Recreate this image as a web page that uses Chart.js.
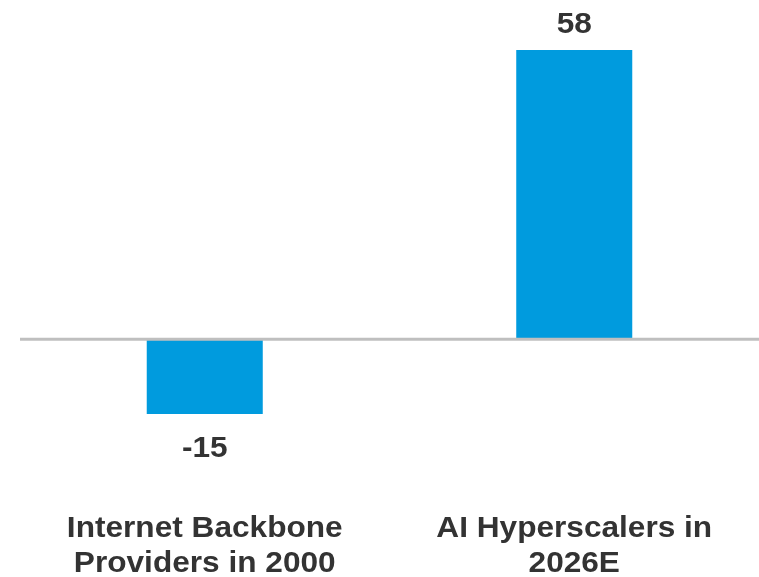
<!DOCTYPE html>
<html>
<head>
<meta charset="utf-8">
<script src="https://cdn.jsdelivr.net/npm/chart.js@4/dist/chart.umd.min.js"></script>
<style>
  html, body { margin: 0; padding: 0; background: #ffffff; }
  #wrap { width: 759px; height: 577px; }
</style>
</head>
<body>
<div id="wrap"><canvas id="chart" width="759" height="577"></canvas></div>
<script>
// Categories (multi-line labels) and values
const categories = [
  ['Internet Backbone', 'Providers in 2000'],
  ['AI Hyperscalers in', '2026E']
];
const values = [-15, 58];

const BAR_COLOR = '#009bde';
const TEXT_COLOR = '#333333';
const FONT = 'bold 29px "Liberation Sans", Arial, Helvetica, sans-serif';
const TEXT_STRETCH = 1.09;   // slightly widened lettering
const LINE_GAP = 35;

// Draw text centred on x with a horizontal stretch
function stretchedText(ctx, text, x, y) {
  ctx.save();
  ctx.translate(x, y);
  ctx.scale(TEXT_STRETCH, 1);
  ctx.fillText(text, 0, 0);
  ctx.restore();
}

// Grey baseline at zero, spanning the full plot width
const zeroLine = {
  id: 'zeroLine',
  afterDatasetsDraw(chart) {
    const { ctx, chartArea, scales } = chart;
    const y = scales.y.getPixelForValue(0);
    ctx.save();
    ctx.strokeStyle = '#bfbfbf';
    ctx.lineWidth = 3;
    ctx.beginPath();
    ctx.moveTo(chartArea.left, y);
    ctx.lineTo(chartArea.right, y);
    ctx.stroke();
    ctx.restore();
  }
};

// Value labels above positive bars / below negative bars, and category labels
const textLabels = {
  id: 'textLabels',
  afterDraw(chart) {
    const { ctx, chartArea, scales } = chart;
    const meta = chart.getDatasetMeta(0);
    ctx.save();
    ctx.font = FONT;
    ctx.fillStyle = TEXT_COLOR;
    ctx.textAlign = 'center';
    ctx.textBaseline = 'alphabetic';
    meta.data.forEach((bar, i) => {
      const v = chart.data.datasets[0].data[i];
      const y = v >= 0 ? bar.y - 17 : bar.y + 43;
      stretchedText(ctx, String(v), bar.x, y);
    });
    chart.data.labels.forEach((lines, i) => {
      const x = scales.x.getPixelForValue(i);
      lines.forEach((line, j) => {
        stretchedText(ctx, line, x, chartArea.bottom + 123 + j * LINE_GAP);
      });
    });
    ctx.restore();
  }
};

new Chart(document.getElementById('chart'), {
  type: 'bar',
  data: {
    labels: categories,
    datasets: [{
      data: values,
      backgroundColor: BAR_COLOR,
      borderWidth: 0,
      categoryPercentage: 1,
      barPercentage: 0.314
    }]
  },
  options: {
    responsive: false,
    animation: false,
    layout: { padding: { left: 20, right: 0, top: 50, bottom: 163 } },
    plugins: {
      legend: { display: false },
      tooltip: { enabled: false }
    },
    scales: {
      x: { display: false },
      y: { display: false, min: -15, max: 58 }
    }
  },
  plugins: [zeroLine, textLabels]
});
</script>
</body>
</html>
